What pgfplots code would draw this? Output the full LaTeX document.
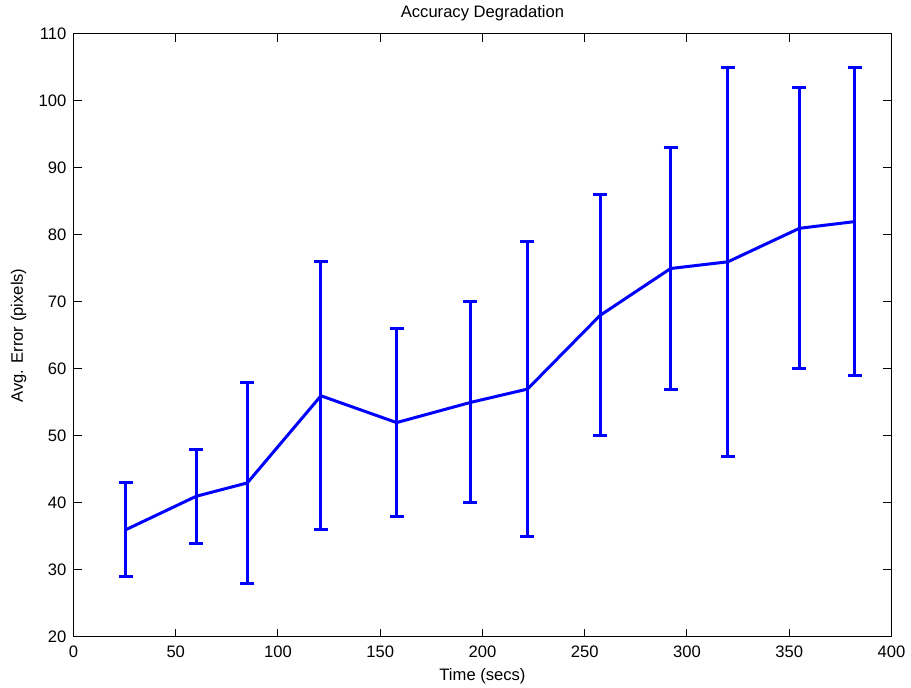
\documentclass[border=0pt]{standalone}
\usepackage{pgfplots}
\pgfplotsset{compat=1.18}
\usepackage{fontspec}
\setmainfont{Liberation Sans}
\definecolor{mblue}{RGB}{0,0,255}
\begin{document}
\begin{tikzpicture}
\begin{axis}[
  scale only axis,
  width=409pt, height=301.5pt,
  xmin=0, xmax=400, ymin=20, ymax=110,
  xtick={0,50,...,400}, ytick={20,30,...,110},
  tick align=inside, tick pos=both,
  major tick length=4pt,
  axis line style={line width=0.5pt},
  every tick/.style={line width=0.5pt, black},
  /pgf/number format/assume math mode=true,
  every axis title shift=0pt,
  ticklabel style={font=\fontsize{8.3}{10}\selectfont},
  label style={font=\fontsize{8.3}{10}\selectfont},
  title style={font=\fontsize{8.3}{10}\selectfont, at={(axis description cs:0.5,1.0348)}, anchor=center},
  xlabel style={at={(axis description cs:0.5,-0.0647)}, anchor=center},
  ylabel style={at={(axis description cs:-0.0672,0.5)}, anchor=center},
  title={Accuracy Degradation},
  xlabel={Time (secs)},
  ylabel={Avg. Error (pixels)},
  xticklabel style={yshift=-1pt},
]
\addplot[color=mblue, line width=1.5pt, mark=none,
  error bars/.cd, y dir=both, y explicit,
  error mark options={rotate=90, mark size=3.5pt, line width=1.5pt, color=mblue},
  error bar style={line width=1.5pt, color=mblue}]
table[x=x, y=y, y error plus=ep, y error minus=em] {
x y ep em
25.5 36 7 7
60 41 7 7
85 43 15 15
121 56 20 20
158 52 14 14
194 55 15 15
222 57 22 22
257.5 68 18 18
292 75 18 18
320 76 29 29
355 81 21 21
382 82 23 23
};
\end{axis}
\pgfresetboundingbox
\path[use as bounding box] ([shift={(-36.75pt,-25.5pt)}]current axis.south west) rectangle ([shift={(418.75pt,318.5pt)}]current axis.south west);
\end{tikzpicture}
\end{document}
